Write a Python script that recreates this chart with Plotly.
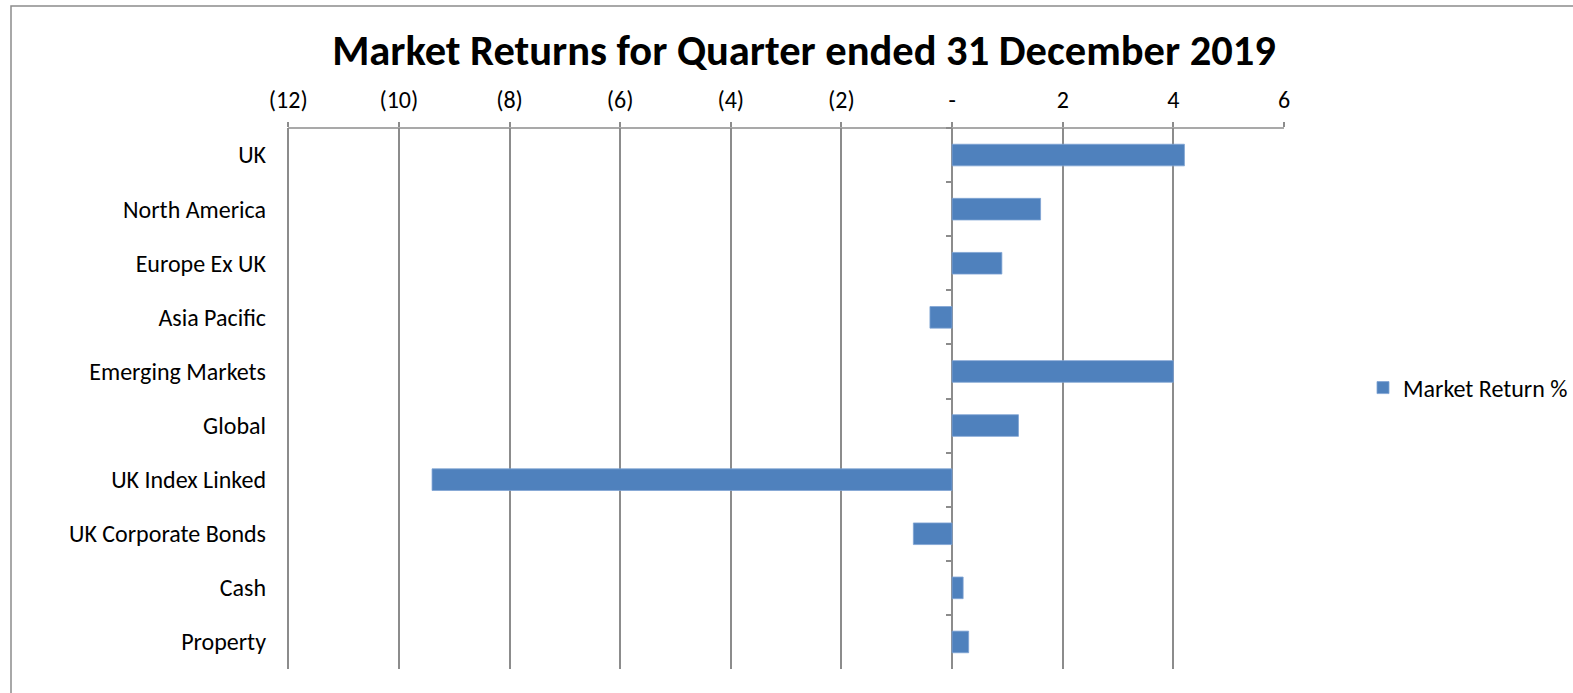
import plotly.graph_objects as go

categories = ["UK", "North America", "Europe Ex UK", "Asia Pacific", "Emerging Markets",
              "Global", "UK Index Linked", "UK Corporate Bonds", "Cash", "Property"]
returns = [4.2, 1.6, 0.9, -0.4, 4.0, 1.2, -9.4, -0.7, 0.2, 0.3]
tick_vals = [-12, -10, -8, -6, -4, -2, 0, 2, 4, 6]
tick_text = ["(12)", "(10)", "(8)", "(6)", "(4)", "(2)", "-", "2", "4", "6"]

FONT = "Calibri, Carlito, Lato, sans-serif"
GRID = "#8c8c8c"
W, H = 1573, 693
L, R, T, B = 286, 1284, 128, 669

fig = go.Figure()
fig.add_trace(go.Bar(
    x=returns, y=categories, orientation="h", name="Market Return %",
    marker=dict(color="#4F81BD", line=dict(color="#7FA3D3", width=0.8)),
    width=0.4,
))
# invisible trace to carry the zero-crossing axis with tick marks
fig.add_trace(go.Bar(
    x=returns, y=categories, orientation="h", yaxis="y2", opacity=0,
    showlegend=False, hoverinfo="skip", width=0.4,
))

xr = [-12.04, 6]
zero_frac = (0 - xr[0]) / (xr[1] - xr[0])

fig.update_layout(
    width=W, height=H,
    margin=dict(l=L, r=W - R, t=T, b=H - B, autoexpand=False),
    paper_bgcolor="white", plot_bgcolor="white",
    font=dict(family=FONT, size=24, color="#000000"),
    title=dict(text="<b>Market Returns for Quarter ended 31 December 2019</b>",
               font=dict(family=FONT, size=42.5, color="#000000"),
               x=804 / W, xanchor="center", y=1 - 50 / H, yanchor="middle"),
    xaxis=dict(side="top", range=xr, tickvals=tick_vals, ticktext=tick_text,
               showgrid=True, gridcolor=GRID, gridwidth=1.5,
               showline=False,
               ticks="outside", ticklen=5, tickcolor=GRID, tickwidth=1.5,
               ticklabelstandoff=4,
               zeroline=True, zerolinecolor=GRID, zerolinewidth=2,
               tickfont=dict(size=24), fixedrange=True),
    yaxis=dict(categoryorder="array", categoryarray=categories, autorange="reversed",
               showgrid=False, showline=False, ticks="", zeroline=False,
               ticklabelstandoff=19, tickfont=dict(size=24)),
    yaxis2=dict(overlaying="y", matches="y", anchor="free", position=zero_frac,
                side="left", showticklabels=False, showgrid=False, showline=False,
                ticks="outside", tickson="boundaries", ticklen=6, tickwidth=2,
                tickcolor=GRID, zeroline=False),
    legend=dict(x=(1363 - L) / (R - L), y=(B - 388) / (B - T), xanchor="left",
                yanchor="middle", font=dict(size=24), bgcolor="rgba(0,0,0,0)"),
    showlegend=True,
    bargap=0.6,
)

# top axis line spanning the tick range (-12 to 6)
fig.add_shape(type="line", xref="x", yref="paper", x0=tick_vals[0], x1=tick_vals[-1],
              y0=1, y1=1, line=dict(color=GRID, width=1.5))

# chart-area border
fig.add_shape(type="rect", xref="paper", yref="paper",
              x0=(11 - L) / (R - L), x1=(W + 20 - L) / (R - L),
              y0=(B - (H + 20)) / (B - T), y1=(B - 6) / (B - T),
              line=dict(color=GRID, width=1.5), fillcolor="rgba(0,0,0,0)", layer="below")

fig.write_html("out.html", config={"displayModeBar": False},
               post_script="document.body.style.margin='0';")
